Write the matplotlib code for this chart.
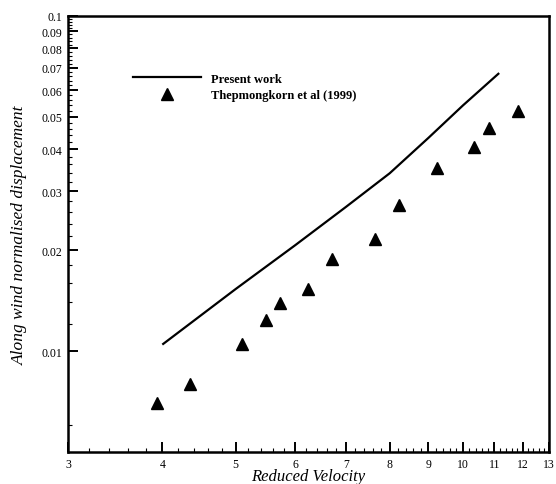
import matplotlib
matplotlib.use("Agg")
import matplotlib.pyplot as plt
from matplotlib.ticker import FixedLocator, NullFormatter
import numpy as np

# present work (line)
present_x = [4.01, 5.0, 6.0, 7.0, 8.0, 9.0, 10.0, 11.14]
present_y = [0.0105, 0.0153, 0.0207, 0.0269, 0.0339, 0.0432, 0.0540, 0.0671]

# Thepmongkorn et al (1999) (triangles)
thep_x = [3.93, 4.35, 5.10, 5.48, 5.73, 6.24, 6.71, 7.65, 8.22, 9.24, 10.33, 10.84, 11.84]
thep_y = [0.0070, 0.0080, 0.0105, 0.0124, 0.0139, 0.0153, 0.0188, 0.0216, 0.0272, 0.0352, 0.0406, 0.0463, 0.0520]

x_major = [3, 4, 5, 6, 7, 8, 9, 10, 11, 12, 13]
y_major = [0.01, 0.02, 0.03, 0.04, 0.05, 0.06, 0.07, 0.08, 0.09, 0.1]
y_labels = ['0.01', '0.02', '0.03', '0.04', '0.05', '0.06', '0.07', '0.08', '0.09', '0.1']

plt.rcParams['font.family'] = ['Liberation Serif', 'DejaVu Serif']

fig = plt.figure(figsize=(5.56, 4.85), dpi=100)
ax = fig.add_axes([0.1223, 0.066, 0.8651, 0.8996])

ax.plot(present_x, present_y, color='black', lw=1.6, label='Present work')
ax.plot(thep_x, thep_y, ls='none', marker='^', ms=8.5, color='black',
        label='Thepmongkorn et al (1999)')

ax.set_xscale('log')
ax.set_yscale('log')
ax.set_xlim(3, 13)
ax.set_ylim(0.005, 0.1)

# ticks
ax.xaxis.set_major_locator(FixedLocator(x_major))
ax.set_xticklabels([str(v) for v in x_major])
x_minor = [v for v in np.arange(3.2, 13.0, 0.2) if abs(v - round(v)) > 1e-6]
ax.xaxis.set_minor_locator(FixedLocator(x_minor))
ax.xaxis.set_minor_formatter(NullFormatter())

ax.yaxis.set_major_locator(FixedLocator(y_major))
ax.set_yticklabels(y_labels)
y_minor = [0.006] + [v for v in np.arange(0.012, 0.1, 0.002)
                     if min(abs(v - m) for m in y_major) > 1e-6]
ax.yaxis.set_minor_locator(FixedLocator(y_minor))
ax.yaxis.set_minor_formatter(NullFormatter())

ax.tick_params(which='both', direction='in', top=False, right=False, labelsize=8.5,
               colors='black')
ax.tick_params(which='major', length=7, width=1.4)
ax.tick_params(which='minor', length=3.2, width=0.8)
ax.tick_params(axis='x', which='major', pad=4)
ax.tick_params(axis='y', which='major', pad=4)

for s in ax.spines.values():
    s.set_linewidth(1.8)

ax.set_xlabel('Reduced Velocity', fontsize=12, style='italic', labelpad=-1)
ax.set_ylabel('Along wind normalised displacement', fontsize=12.5, style='italic', labelpad=10)

leg = ax.legend(loc='upper left', bbox_to_anchor=(0.2398, 0.848),
                bbox_transform=fig.transFigure, frameon=False,
                prop={'family': 'Liberation Serif', 'weight': 'bold', 'size': 9},
                handlelength=5.44, handletextpad=0.8, labelspacing=0.35,
                borderpad=0, borderaxespad=0, numpoints=1)

fig.savefig('out.png', dpi=100)
